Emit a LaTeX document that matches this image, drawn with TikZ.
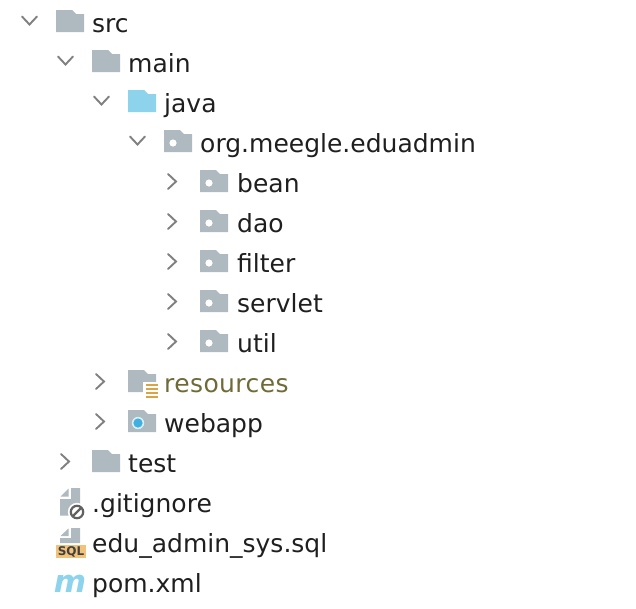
\documentclass[tikz,border=0pt]{standalone}
\usepackage{fontspec}
\setmainfont{DejaVu Sans}
\definecolor{fold}{HTML}{AEB9C0}
\definecolor{bluef}{HTML}{8DD3EC}
\definecolor{chev}{HTML}{808080}
\definecolor{res}{HTML}{6F6B38}
\definecolor{orng}{HTML}{D9A441}
\definecolor{sqlbg}{HTML}{F2C27B}
\definecolor{dot}{HTML}{3FB0E0}
\tikzset{
  x=1pt,y=-1pt,
  lab/.style={anchor=base west,inner sep=0pt,font=\fontsize{25}{30}\selectfont,text=black!88},
  chevline/.style={draw=chev,line width=1.9pt,line cap=round,line join=miter},
}
\newcommand{\folder}[3]{% x, y top, colour
  \fill[#3] (#1,#2) -- (#1+16,#2) -- (#1+20,#2+4) -- (#1+28,#2+4) -- (#1+28,#2+22) -- (#1,#2+22) -- cycle;}
\newcommand{\pkg}[2]{%
  \folder{#1}{#2}{fold}
  \fill[white] (#1+9,#2+13) circle (3.6);}
\newcommand{\chevd}[2]{\draw[chevline] (#1-7.5,#2-4) -- (#1,#2+4) -- (#1+7.5,#2-4);}
\newcommand{\chevr}[2]{\draw[chevline] (#1-4,#2-7.5) -- (#1+4,#2) -- (#1-4,#2+7.5);}
\begin{document}
\begin{tikzpicture}
\useasboundingbox (0,0) rectangle (636,608);
\fill[white] (0,0) rectangle (636,608);
% open chevrons
\chevd{29.5}{20.5}
\chevd{65.5}{60.5}
\chevd{101.5}{100.5}
\chevd{137.5}{140.5}
% closed chevrons
\chevr{172}{181.5}
\chevr{172}{221.5}
\chevr{172}{261.5}
\chevr{172}{301.5}
\chevr{172}{341.5}
\chevr{100}{381.5}
\chevr{100}{421.5}
\chevr{65}{461.5}
% folders
\folder{56}{10}{fold}
\folder{92}{50}{fold}
\folder{128}{90}{bluef}
\pkg{164}{130}
\pkg{200}{170}
\pkg{200}{210}
\pkg{200}{250}
\pkg{200}{290}
\pkg{200}{330}
\folder{92}{450}{fold}
% resources
\folder{128}{370}{fold}
\fill[white] (143,382) rectangle (160,400);
\fill[orng] (146,384) rectangle (158,386);
\fill[orng] (146,388) rectangle (158,390);
\fill[orng] (146,392) rectangle (158,394);
\fill[orng] (146,396) rectangle (158,398);
% webapp
\folder{128}{410}{fold}
\fill[white!80!dot] (138,423) circle (6.2);
\fill[dot] (138,423) circle (4.6);
% .gitignore
\fill[fold] (71,488) -- (80,488) -- (80,515.5) -- (60,515.5) -- (60,499) -- (71,499) -- cycle;
\fill[fold] (68.5,488.5) -- (68.5,496.5) -- (60.5,496.5) -- cycle;
\fill[white] (77,512) circle (9.2);
\draw[black!62,line width=2.2pt] (77,512) circle (6.2);
\draw[black!62,line width=2.2pt] (72.6,516.4) -- (81.4,507.6);
% sql
\fill[fold] (71,528) -- (80,528) -- (80,543) -- (60,543) -- (60,538) -- (71,538) -- cycle;
\fill[fold] (68.5,528.5) -- (68.5,536) -- (60.5,536) -- cycle;
\fill[sqlbg] (56,545) rectangle (86,558);
\node[anchor=center,inner sep=0pt,font=\fontsize{12}{13}\selectfont\bfseries,text=black!75] (sqlt) at (71,551.5) {SQL};
% maven m
\node[anchor=base,inner sep=0pt,font=\fontsize{31}{40}\selectfont\bfseries\itshape,text=bluef] (mvn) at (70,592) {m};
% labels
\node[lab] (n1) at (92,32) {src};
\node[lab] (n2) at (128,72) {main};
\node[lab] (n3) at (164,112) {java};
\node[lab] (n4) at (200,152) {org.meegle.eduadmin};
\node[lab] (n5) at (237,192) {bean};
\node[lab] (n6) at (237,232) {dao};
\node[lab] (n7) at (237,272) {filter};
\node[lab] (n8) at (237,312) {servlet};
\node[lab] (n9) at (237,352) {util};
\node[lab,text=res] (n10) at (164,392) {\addfontfeatures{LetterSpace=1.6}resources};
\node[lab] (n11) at (164,432) {webapp};
\node[lab] (n12) at (128,472) {test};
\node[lab] (n13) at (92,512) {.gitignore};
\node[lab] (n14) at (92,552) {edu\_admin\_sys.sql};
\node[lab] (n15) at (92,592) {pom.xml};
\end{tikzpicture}
\end{document}
